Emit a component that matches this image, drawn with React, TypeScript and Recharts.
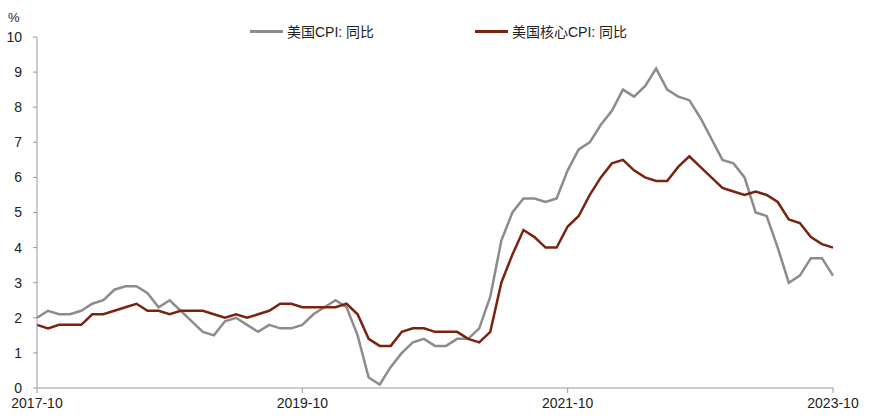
import { LineChart, Line, XAxis, YAxis } from "recharts";

const months = [
  "2017-10", "2017-11", "2017-12",
  "2018-01", "2018-02", "2018-03", "2018-04", "2018-05", "2018-06", "2018-07", "2018-08", "2018-09", "2018-10", "2018-11", "2018-12",
  "2019-01", "2019-02", "2019-03", "2019-04", "2019-05", "2019-06", "2019-07", "2019-08", "2019-09", "2019-10", "2019-11", "2019-12",
  "2020-01", "2020-02", "2020-03", "2020-04", "2020-05", "2020-06", "2020-07", "2020-08", "2020-09", "2020-10", "2020-11", "2020-12",
  "2021-01", "2021-02", "2021-03", "2021-04", "2021-05", "2021-06", "2021-07", "2021-08", "2021-09", "2021-10", "2021-11", "2021-12",
  "2022-01", "2022-02", "2022-03", "2022-04", "2022-05", "2022-06", "2022-07", "2022-08", "2022-09", "2022-10", "2022-11", "2022-12",
  "2023-01", "2023-02", "2023-03", "2023-04", "2023-05", "2023-06", "2023-07", "2023-08", "2023-09", "2023-10",
];

const cpi = [
  2.0, 2.2, 2.1,
  2.1, 2.2, 2.4, 2.5, 2.8, 2.9, 2.9, 2.7, 2.3, 2.5, 2.2, 1.9,
  1.6, 1.5, 1.9, 2.0, 1.8, 1.6, 1.8, 1.7, 1.7, 1.8, 2.1, 2.3,
  2.5, 2.3, 1.5, 0.3, 0.1, 0.6, 1.0, 1.3, 1.4, 1.2, 1.2, 1.4,
  1.4, 1.7, 2.6, 4.2, 5.0, 5.4, 5.4, 5.3, 5.4, 6.2, 6.8, 7.0,
  7.5, 7.9, 8.5, 8.3, 8.6, 9.1, 8.5, 8.3, 8.2, 7.7, 7.1, 6.5,
  6.4, 6.0, 5.0, 4.9, 4.0, 3.0, 3.2, 3.7, 3.7, 3.2,
];

const coreCpi = [
  1.8, 1.7, 1.8,
  1.8, 1.8, 2.1, 2.1, 2.2, 2.3, 2.4, 2.2, 2.2, 2.1, 2.2, 2.2,
  2.2, 2.1, 2.0, 2.1, 2.0, 2.1, 2.2, 2.4, 2.4, 2.3, 2.3, 2.3,
  2.3, 2.4, 2.1, 1.4, 1.2, 1.2, 1.6, 1.7, 1.7, 1.6, 1.6, 1.6,
  1.4, 1.3, 1.6, 3.0, 3.8, 4.5, 4.3, 4.0, 4.0, 4.6, 4.9, 5.5,
  6.0, 6.4, 6.5, 6.2, 6.0, 5.9, 5.9, 6.3, 6.6, 6.3, 6.0, 5.7,
  5.6, 5.5, 5.6, 5.5, 5.3, 4.8, 4.7, 4.3, 4.1, 4.0,
];

const yTicks = [0, 1, 2, 3, 4, 5, 6, 7, 8, 9, 10];

const seriesNames = ["美国CPI: 同比", "美国核心CPI: 同比"];
const seriesColors = ["#8c8c8c", "#7a2410"];

const data = months.map((m, i) => ({ month: m, cpi: cpi[i], core: coreCpi[i] }));

const FONT = "'Liberation Sans', Arial, 'Noto Sans CJK SC', sans-serif";

// legend sits above the plot, not counted in the chart offsets
function TopLegend() {
  const items = [
    { x: 250, name: seriesNames[0], color: seriesColors[0] },
    { x: 475, name: seriesNames[1], color: seriesColors[1] },
  ];
  return (
    <>
      {items.map((it) => (
        <div
          key={it.name}
          style={{
            position: "absolute",
            left: it.x,
            top: 21,
            height: 20,
            display: "flex",
            alignItems: "center",
            fontFamily: FONT,
            fontSize: 14,
            color: "#222",
          }}
        >
          <span
            style={{
              display: "inline-block",
              width: 33,
              height: 3,
              background: it.color,
              marginRight: 4,
            }}
          />
          {it.name}
        </div>
      ))}
    </>
  );
}

export default function App() {
  return (
    <div style={{ position: "absolute", left: 0, top: 0, width: 870, height: 419, background: "#fff" }}>
      <LineChart
        width={870}
        height={419}
        data={data}
        margin={{ top: 37, right: 37, bottom: 0, left: 0 }}
      >
        <XAxis
          dataKey="month"
          interval={23}
          height={31}
          tickSize={5}
          tickMargin={5}
          stroke="#999"
          tick={{ fill: "#222", fontSize: 14, fontFamily: FONT }}
        />
        <YAxis
          domain={[0, 10]}
          ticks={yTicks}
          width={37}
          tickSize={4}
          tickMargin={11}
          stroke="#999"
          tick={{ fill: "#222", fontSize: 14, fontFamily: FONT }}
          label={{
            value: "%",
            position: "insideTopLeft",
            offset: 0,
            dx: 8,
            dy: -24,
            fill: "#222",
            fontSize: 13,
            fontFamily: FONT,
          }}
        />
        <Line
          type="linear"
          dataKey="cpi"
          name={seriesNames[0]}
          stroke={seriesColors[0]}
          strokeWidth={2.5}
          dot={false}
          isAnimationActive={false}
        />
        <Line
          type="linear"
          dataKey="core"
          name={seriesNames[1]}
          stroke={seriesColors[1]}
          strokeWidth={2.5}
          dot={false}
          isAnimationActive={false}
        />
      </LineChart>
      <TopLegend />
    </div>
  );
}
